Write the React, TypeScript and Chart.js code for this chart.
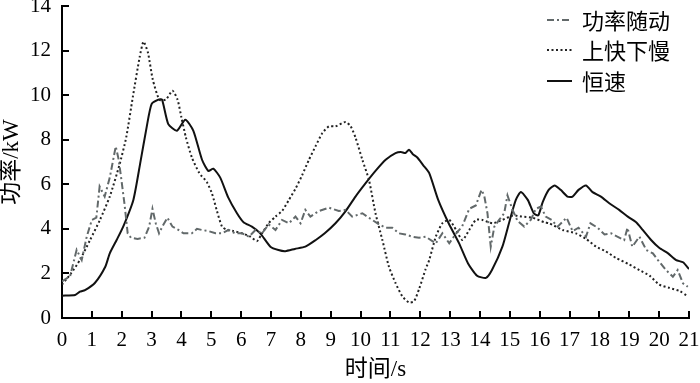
import { useEffect, useRef } from "react";
import { Chart, registerables } from "chart.js";

Chart.register(...registerables);

const seriesNames = ["功率随动", "上快下慢", "恒速"];
const xAxisTitle = "时间/s";
const yAxisTitle = "功率/kW";
const xMin = 0, xMax = 21, xStep = 1;
const yMin = 0, yMax = 14, yStep = 2;

// 功率随动 [time s, power kW]
const followPower: [number, number][] = [
  [0, 1.64], [0.27, 1.87], [0.49, 3.06], [0.66, 2.6], [0.83, 3.66], [1.0, 4.4], [1.15, 4.5], [1.26, 5.9],
  [1.43, 5.45], [1.6, 6.3], [1.8, 7.7], [1.9, 7.1], [1.98, 6.3], [2.09, 5.15], [2.2, 3.8], [2.31, 3.6],
  [2.53, 3.55], [2.76, 3.6], [2.92, 4.1], [3.03, 4.9], [3.14, 4.25], [3.25, 3.8], [3.36, 4.1], [3.53, 4.5],
  [3.7, 4.1], [3.9, 3.95], [4.07, 3.8], [4.35, 3.8], [4.52, 4.0], [4.69, 3.95], [4.91, 3.9], [5.14, 3.8],
  [5.36, 3.8], [5.58, 3.95], [5.8, 3.8], [6.03, 3.8], [6.26, 3.65], [6.48, 3.95], [6.7, 3.8], [6.92, 4.2],
  [7.15, 3.95], [7.37, 4.4], [7.6, 4.25], [7.82, 4.55], [7.99, 4.25], [8.15, 4.85], [8.32, 4.55], [8.6, 4.8],
  [8.94, 4.95], [9.27, 4.8], [9.5, 4.85], [9.72, 4.55], [10.06, 4.7], [10.28, 4.5], [10.62, 4.2], [10.84, 4.05],
  [11.06, 4.05], [11.28, 3.8], [11.5, 3.75], [11.73, 3.65], [11.96, 3.6], [12.18, 3.65], [12.52, 3.35], [12.74, 3.8],
  [12.97, 3.35], [13.2, 3.8], [13.4, 4.1], [13.64, 4.9], [13.86, 5.05], [14.05, 5.75], [14.14, 5.5], [14.25, 4.7],
  [14.36, 3.2], [14.48, 4.1], [14.64, 4.4], [14.81, 4.7], [14.92, 5.5], [15.09, 4.85], [15.26, 4.35], [15.48, 4.1],
  [15.7, 4.4], [15.87, 4.9], [16.04, 5.0], [16.2, 4.55], [16.4, 4.4], [16.6, 4.1], [16.9, 4.5], [17.1, 3.9],
  [17.3, 4.05], [17.55, 3.65], [17.7, 4.25], [17.94, 4.05], [18.17, 3.75], [18.39, 3.8], [18.6, 3.65], [18.83, 3.5],
  [18.94, 4.05], [19.1, 3.2], [19.34, 3.65], [19.57, 3.05], [19.79, 2.9], [19.96, 2.6], [20.23, 2.15], [20.46, 1.85],
  [20.62, 2.15], [20.8, 1.55], [20.96, 1.4],
];

// 上快下慢
const fastUpSlowDown: [number, number][] = [
  [0, 1.5], [0.3, 2.0], [0.6, 2.6], [0.94, 3.5], [1.27, 4.4], [1.6, 5.45], [1.93, 6.9], [2.15, 8.1],
  [2.37, 9.9], [2.6, 11.7], [2.73, 12.4], [2.88, 11.9], [3.04, 10.7], [3.26, 9.8], [3.48, 9.8], [3.7, 10.2],
  [3.87, 9.8], [4.0, 9.0], [4.15, 8.1], [4.35, 7.2], [4.6, 6.5], [4.85, 6.1], [5.02, 5.6], [5.19, 4.8],
  [5.36, 4.1], [5.53, 3.95], [5.75, 3.9], [6.03, 3.8], [6.31, 3.65], [6.53, 3.45], [6.7, 3.8], [6.92, 4.25],
  [7.15, 4.55], [7.37, 4.8], [7.6, 5.3], [7.82, 5.8], [8.04, 6.4], [8.27, 7.1], [8.49, 7.7], [8.72, 8.3],
  [8.94, 8.6], [9.16, 8.6], [9.5, 8.8], [9.67, 8.6], [9.83, 8.1], [10.06, 7.1], [10.28, 6.2], [10.5, 4.7],
  [10.73, 3.5], [10.95, 2.3], [11.17, 1.57], [11.4, 0.97], [11.62, 0.7], [11.79, 0.75], [11.96, 1.3], [12.18, 2.2],
  [12.3, 2.6], [12.52, 3.65], [12.74, 4.25], [12.97, 4.4], [13.2, 3.95], [13.41, 3.5], [13.64, 3.95], [13.86, 4.4],
  [14.08, 4.4], [14.42, 4.25], [14.75, 4.4], [15.1, 4.6], [15.4, 4.55], [15.76, 4.5], [16.15, 4.3], [16.32, 4.25],
  [16.77, 3.95], [17.21, 3.8], [17.55, 3.55], [17.89, 3.2], [18.2, 3.0], [18.55, 2.7], [19.0, 2.4], [19.34, 2.15],
  [19.68, 1.9], [20.0, 1.5], [20.35, 1.35], [20.7, 1.2], [20.96, 0.97],
];

// 恒速
const constantSpeed: [number, number][] = [
  [0, 1.0], [0.44, 1.03], [0.6, 1.18], [0.77, 1.25], [1.1, 1.57], [1.45, 2.3], [1.6, 2.9], [1.83, 3.5],
  [2.05, 4.1], [2.39, 5.3], [2.62, 6.95], [2.84, 8.6], [3.0, 9.6], [3.23, 9.8], [3.35, 9.8], [3.56, 8.7],
  [3.85, 8.4], [4.13, 8.9], [4.4, 8.4], [4.69, 7.1], [4.9, 6.6], [5.07, 6.7], [5.3, 6.3], [5.57, 5.4],
  [5.86, 4.7], [6.08, 4.3], [6.36, 4.1], [6.64, 3.8], [6.98, 3.2], [7.25, 3.05], [7.48, 3.0], [7.8, 3.1],
  [8.15, 3.2], [8.5, 3.5], [8.8, 3.8], [9.16, 4.25], [9.5, 4.8], [9.83, 5.45], [10.17, 6.05], [10.5, 6.6],
  [10.84, 7.1], [11.17, 7.4], [11.35, 7.45], [11.5, 7.4], [11.62, 7.55], [11.75, 7.35], [11.9, 7.2], [12.1, 6.85],
  [12.3, 6.5], [12.6, 5.3], [12.95, 4.25], [13.3, 3.35], [13.6, 2.45], [13.9, 1.9], [14.2, 1.8], [14.4, 2.15],
  [14.75, 3.2], [15.0, 4.4], [15.2, 5.3], [15.37, 5.65], [15.6, 5.3], [15.8, 4.7], [15.95, 4.6], [16.1, 5.2],
  [16.3, 5.75], [16.5, 5.95], [16.7, 5.75], [16.93, 5.45], [17.1, 5.45], [17.3, 5.75], [17.55, 5.95], [17.77, 5.65],
  [18.05, 5.45], [18.33, 5.15], [18.66, 4.85], [18.95, 4.55], [19.23, 4.3], [19.45, 3.95], [19.73, 3.5], [20.0, 3.15],
  [20.3, 2.9], [20.57, 2.6], [20.8, 2.5], [21.0, 2.2],
];

const serifFont = "'Liberation Serif', 'Times New Roman', 'Noto Sans CJK SC', serif";
const cjkFont = "'Liberation Serif', 'Noto Sans CJK SC', sans-serif";

export default function App() {
  const ref = useRef<HTMLCanvasElement>(null);

  useEffect(() => {
    const canvas = ref.current;
    if (!canvas) return;

    const innerTicks = {
      id: "innerTicks",
      afterDraw(chart: any) {
        const { ctx, chartArea, scales } = chart;
        ctx.save();
        ctx.strokeStyle = "#000";
        ctx.lineWidth = 2;
        scales.x.ticks.forEach((t: any) => {
          const px = Math.round(scales.x.getPixelForValue(t.value));
          ctx.beginPath();
          ctx.moveTo(px, chartArea.bottom);
          ctx.lineTo(px, chartArea.bottom - 7);
          ctx.stroke();
        });
        scales.y.ticks.forEach((t: any) => {
          const py = Math.round(scales.y.getPixelForValue(t.value));
          ctx.beginPath();
          ctx.moveTo(chartArea.left, py);
          ctx.lineTo(chartArea.left + 7, py);
          ctx.stroke();
        });
        // legend
        const rowsY = [20, 50, 81];
        chart.data.datasets.forEach((ds: any, i: number) => {
          const y = rowsY[i];
          ctx.save();
          ctx.strokeStyle = ds.borderColor;
          ctx.lineWidth = ds.borderWidth;
          ctx.setLineDash(ds.borderDash || []);
          ctx.beginPath();
          ctx.moveTo(547, y);
          ctx.lineTo(572, y);
          ctx.stroke();
          ctx.restore();
          ctx.fillStyle = "#000";
          ctx.font = "22px 'Noto Sans CJK SC', sans-serif";
          ctx.textBaseline = "middle";
          ctx.textAlign = "left";
          ctx.fillText(ds.label, 582, y + 1);
        });
        ctx.restore();
      },
    };

    const chart = new Chart(canvas, {
      type: "line",
      data: {
        datasets: [
          {
            label: seriesNames[0],
            data: followPower.map(([x, y]) => ({ x, y })),
            borderColor: "#62696a",
            borderWidth: 2,
            borderDash: [7, 3, 2, 3],
            pointRadius: 0,
            tension: 0,
          },
          {
            label: seriesNames[1],
            data: fastUpSlowDown.map(([x, y]) => ({ x, y })),
            borderColor: "#222",
            borderWidth: 2,
            borderDash: [2, 2.5],
            pointRadius: 0,
            tension: 0.2,
          },
          {
            label: seriesNames[2],
            data: constantSpeed.map(([x, y]) => ({ x, y })),
            borderColor: "#111",
            borderWidth: 2,
            pointRadius: 0,
            tension: 0.2,
          },
        ],
      },
      options: {
        responsive: false,
        animation: false,
        devicePixelRatio: 1,
        layout: { padding: { left: 0, right: 11, top: 6, bottom: 0 } },
        plugins: { legend: { display: false }, tooltip: { enabled: false } },
        scales: {
          x: {
            type: "linear",
            min: xMin,
            max: xMax,
            grid: { display: true, drawOnChartArea: false, drawTicks: false },
            border: { display: true, color: "#000", width: 2 },
            ticks: {
              stepSize: xStep,
              padding: 10,
              color: "#000",
              font: { family: serifFont, size: 21 },
              maxRotation: 0,
              autoSkip: false,
            },
            title: {
              display: true,
              text: xAxisTitle,
              color: "#000",
              font: { family: cjkFont, size: 23, lineHeight: 1 },
              padding: { top: 0, bottom: 1.5 },
            },
            afterFit(scale: any) {
              scale.height = 65;
              scale.paddingLeft = 0;
              scale.paddingRight = 0;
            },
          },
          y: {
            type: "linear",
            min: yMin,
            max: yMax,
            grid: { display: true, drawOnChartArea: false, drawTicks: false },
            border: { display: true, color: "#000", width: 2 },
            ticks: {
              stepSize: yStep,
              padding: 11,
              color: "#000",
              font: { family: serifFont, size: 21 },
            },
            title: {
              display: true,
              text: yAxisTitle,
              color: "#000",
              font: { family: cjkFont, size: 23, lineHeight: 1 },
              padding: { top: 0, bottom: 0 },
            },
            afterFit(scale: any) {
              scale.width = 62;
              scale.paddingTop = 0;
              scale.paddingBottom = 0;
            },
          },
        },
      },
      plugins: [innerTicks],
    } as any);

    return () => chart.destroy();
  }, []);

  return (
    <div style={{ position: "fixed", left: 0, top: 0, width: 700, height: 383, background: "#fff" }}>
      <canvas ref={ref} width={700} height={383} />
    </div>
  );
}
